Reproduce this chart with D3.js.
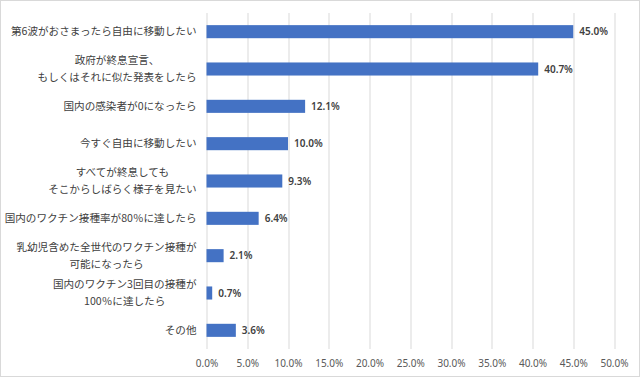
<!DOCTYPE html>
<html>
<head>
<meta charset="utf-8">
<script src="https://cdn.jsdelivr.net/npm/d3@7"></script>
<style>
  body { margin: 0; background: #fff; }
  svg { display: block; }
</style>
</head>
<body>
<div id="chart"></div>
<script>
// Data
const categories = [
    ["第6波がおさまったら自由に移動したい"],
    ["政府が終息宣言、", "もしくはそれに似た発表をしたら"],
    ["国内の感染者が0になったら"],
    ["今すぐ自由に移動したい"],
    ["すべてが終息しても", "そこからしばらく様子を見たい"],
    ["国内のワクチン接種率が80％に達したら"],
    ["乳幼児含めた全世代のワクチン接種が", "可能になったら"],
    ["国内のワクチン3回目の接種が", "100％に達したら"],
    ["その他"]
];
const values = [45.0, 40.7, 12.1, 10.0, 9.3, 6.4, 2.1, 0.7, 3.6];
const xTicks = [0, 5, 10, 15, 20, 25, 30, 35, 40, 45, 50];

const W = 640, H = 377;
const margin = {top: 13, right: 26, bottom: 28, left: 206.5};
const width = W - margin.left - margin.right;
const height = H - margin.top - margin.bottom;

const jpFont = "'Noto Sans CJK JP', 'Noto Sans', sans-serif";
const numFont = "'Noto Sans', 'Noto Sans CJK JP', sans-serif";

const svgRoot = d3.select("#chart")
    .append("svg")
    .attr("width", W)
    .attr("height", H);

// Outer frame
svgRoot.append("rect")
    .attr("x", 0.5).attr("y", 0.5)
    .attr("width", W - 1).attr("height", H - 1)
    .attr("fill", "#fff")
    .attr("stroke", "#d9d9d9");

const svg = svgRoot.append("g")
    .attr("transform", `translate(${margin.left},${margin.top})`);

const x = d3.scaleLinear().domain([0, 50]).range([0, width]);
const y = d3.scaleBand()
    .domain(d3.range(categories.length))
    .range([0, height])
    .paddingInner(0.65)
    .paddingOuter(0.325);

// Grid lines
svg.append("g")
    .selectAll("line")
    .data(xTicks)
    .enter()
    .append("line")
    .attr("x1", d => Math.round(x(d)) + 0.5)
    .attr("x2", d => Math.round(x(d)) + 0.5)
    .attr("y1", 0)
    .attr("y2", height)
    .attr("stroke", "#d9d9d9")
    .attr("stroke-width", 1);

// X axis labels
const xAxis = svg.append("g")
    .attr("transform", `translate(0,${height})`)
    .call(d3.axisBottom(x)
        .tickValues(xTicks)
        .tickSize(0)
        .tickPadding(11)
        .tickFormat(d => d.toFixed(1) + "%"));
xAxis.select(".domain").remove();
xAxis.selectAll("text")
    .style("font-family", numFont)
    .style("font-size", "10px")
    .style("fill", "#595959");

// Bars
svg.selectAll(".bar")
    .data(values)
    .enter()
    .append("rect")
    .attr("class", "bar")
    .attr("x", 0)
    .attr("y", (d, i) => y(i))
    .attr("width", d => x(d))
    .attr("height", y.bandwidth())
    .attr("fill", "#4472c4");

// Value labels
svg.selectAll(".val")
    .data(values)
    .enter()
    .append("text")
    .attr("class", "val")
    .attr("x", d => x(d) + 6)
    .attr("y", (d, i) => y(i) + y.bandwidth() / 2)
    .attr("dy", "0.35em")
    .style("font-family", numFont)
    .style("font-size", "10px")
    .style("font-weight", "600")
    .style("fill", "#404040")
    .text(d => d.toFixed(1) + "%");

// Category labels (multi-line labels centred within a right-aligned block)
const labelRight = -10;
const lineH = 17;
categories.forEach((lines, i) => {
    const cy = y(i) + y.bandwidth() / 2;
    const g = svg.append("g");
    const texts = lines.map((line, j) => g.append("text")
        .attr("y", cy + (j - (lines.length - 1) / 2) * lineH)
        .attr("dy", "0.35em")
        .attr("text-anchor", "middle")
        .style("font-family", jpFont)
        .style("font-size", "10.6px")
        .style("fill", "#404040")
        .text(line));
    const maxW = d3.max(texts, t => t.node().getComputedTextLength());
    texts.forEach(t => t.attr("x", labelRight - maxW / 2));
});
</script>
</body>
</html>
